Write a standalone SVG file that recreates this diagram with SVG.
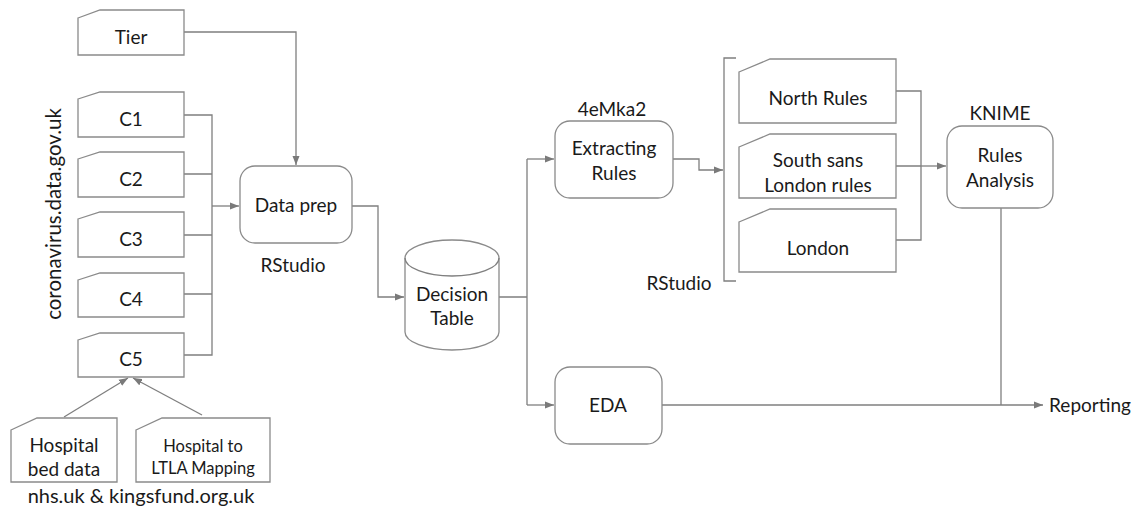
<svg xmlns="http://www.w3.org/2000/svg" width="1137" height="511" viewBox="0 0 1137 511">
<defs>
<marker id="ah" markerWidth="10" markerHeight="8" refX="9" refY="4" orient="auto" markerUnits="userSpaceOnUse">
<path d="M0,0.5 L9,4 L0,7.5 Z" fill="#7a7a7a"/>
</marker>
<style>
.sh{fill:#fff;stroke:#8a8a8a;stroke-width:1.3}
.t{font-family:Lato,"Liberation Sans",sans-serif;font-size:19px;fill:#1a1a1a;text-anchor:middle}
.s{font-size:16.5px}
.c{fill:none;stroke:#7f7f7f;stroke-width:1.3}
</style>
</defs>
<rect width="1137" height="511" fill="#fff"/>
<g id="connectors">
<path class="c" d="M184,32 H296 V165" marker-end="url(#ah)"/>
<path class="c" d="M184,115 H212 V355 H184"/>
<path class="c" d="M184,174 H212 M184,235 H212 M184,294 H212"/>
<path class="c" d="M212,206 H239" marker-end="url(#ah)"/>
<path class="c" d="M352,206 H378 V297 H404" marker-end="url(#ah)"/>
<path class="c" d="M499,297 H527 M527,159 V405"/>
<path class="c" d="M527,159 H554" marker-end="url(#ah)"/>
<path class="c" d="M527,405 H554" marker-end="url(#ah)"/>
<path class="c" d="M673,159 H699 V170 H723" marker-end="url(#ah)"/>
<path class="c" d="M736,58 H724 V281 H736"/>
<path class="c" d="M896,91 H921 V240 H896 M896,166 H921"/>
<path class="c" d="M921,166 H946" marker-end="url(#ah)"/>
<path class="c" d="M1001,208 V405"/>
<path class="c" d="M662,405 H1043" marker-end="url(#ah)"/>
<path class="c" d="M64,417 L128,378" marker-end="url(#ah)"/>
<path class="c" d="M202,415 L133,378" marker-end="url(#ah)"/>
</g>
<g id="tier"><path class="sh" d="M78,18 L100,10 H184 V55 H78 Z"/><text class="t" x="131" y="44">Tier</text></g>
<g id="c1"><path class="sh" d="M78,99 L100,92 H184 V137 H78 Z"/><text class="t" x="131" y="126">C1</text></g>
<g id="c2"><path class="sh" d="M78,159 L100,152 H184 V197 H78 Z"/><text class="t" x="131" y="186">C2</text></g>
<g id="c3"><path class="sh" d="M78,219 L100,212 H184 V257 H78 Z"/><text class="t" x="131" y="246">C3</text></g>
<g id="c4"><path class="sh" d="M78,280 L100,273 H184 V317 H78 Z"/><text class="t" x="131" y="306">C4</text></g>
<g id="c5"><path class="sh" d="M78,340 L100,333 H184 V377 H78 Z"/><text class="t" x="131" y="366">C5</text></g>
<g id="src1"><text class="t" style="font-size:20.5px" transform="translate(61,214) rotate(-90)">coronavirus.data.gov.uk</text></g>
<g id="hbed"><path class="sh" d="M11,430 L37,418 H117 V482 H11 Z"/><text class="t" x="64" y="452">Hospital</text><text class="t" x="64" y="476">bed data</text></g>
<g id="hltla"><path class="sh" d="M136,430 L162,418 H270 V482 H136 Z"/><text class="t s" x="203" y="452">Hospital to</text><text class="t s" x="203" y="474">LTLA Mapping</text></g>
<g id="src2"><text class="t" style="font-size:20px" x="141" y="503">nhs.uk &amp; kingsfund.org.uk</text></g>
<g id="dataprep"><rect class="sh" x="240" y="166" width="112" height="77" rx="15"/><text class="t" x="296" y="212">Data prep</text><text class="t" x="293" y="272">RStudio</text></g>
<g id="dtable"><path class="sh" d="M405,258 V332 A47,18 0 0 0 499,332 V258 A47,18 0 0 0 405,258 Z"/><path class="c" d="M405,258 A47,18 0 0 0 499,258"/><text class="t" x="452" y="301">Decision</text><text class="t" x="452" y="325">Table</text></g>
<g id="extract"><rect class="sh" x="555" y="121" width="118" height="77" rx="15"/><text class="t" x="614" y="155">Extracting</text><text class="t" x="614" y="180">Rules</text><text class="t" x="612" y="116">4eMka2</text></g>
<g id="rstudio2"><text class="t" x="679" y="290">RStudio</text></g>
<g id="north"><path class="sh" d="M739,72 L770,59 H896 V123 H739 Z"/><text class="t" x="818" y="105">North Rules</text></g>
<g id="south"><path class="sh" d="M739,147 L770,134 H896 V198 H739 Z"/><text class="t" x="818" y="167">South sans</text><text class="t" x="818" y="192">London rules</text></g>
<g id="london"><path class="sh" d="M739,222 L770,209 H896 V272 H739 Z"/><text class="t" x="818" y="255">London</text></g>
<g id="rules"><rect class="sh" x="947" y="126" width="106" height="82" rx="15"/><text class="t" x="1000" y="162">Rules</text><text class="t" x="1000" y="187">Analysis</text><text class="t" x="1000" y="120">KNIME</text></g>
<g id="eda"><rect class="sh" x="555" y="367" width="107" height="77" rx="15"/><text class="t" x="608" y="412">EDA</text></g>
<g id="reporting"><text class="t" x="1090" y="412">Reporting</text></g>
</svg>
